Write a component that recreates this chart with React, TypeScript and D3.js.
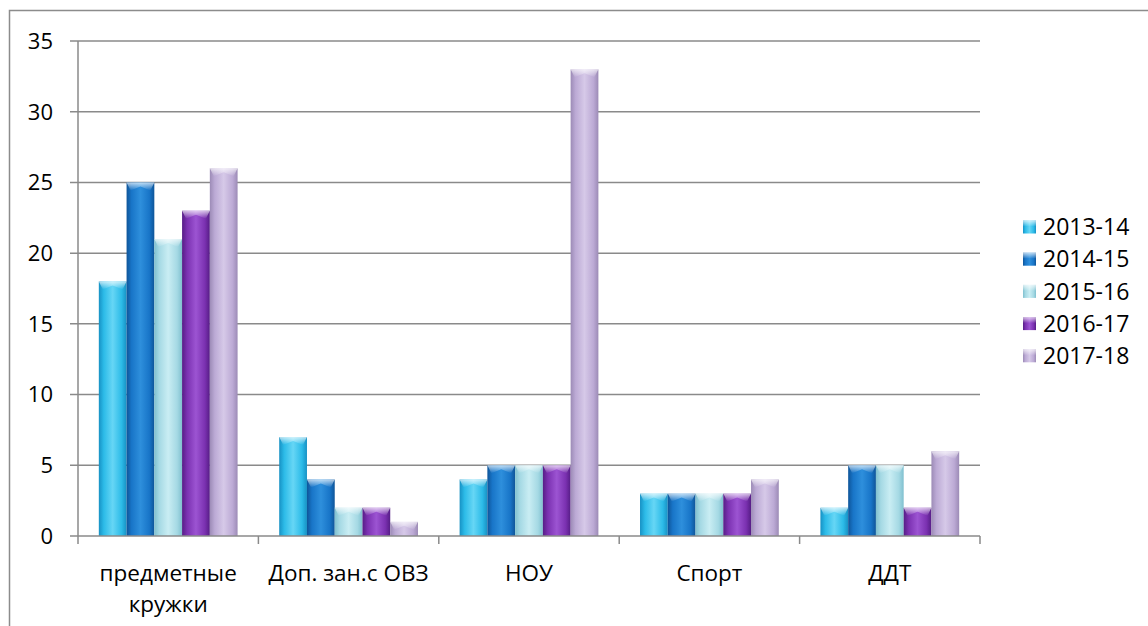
import * as d3 from "d3"

const categories = [["предметные", "кружки"], ["Доп. зан.с ОВЗ"], ["НОУ"], ["Спорт"], ["ДДТ"]]
const seriesNames = ["2013-14", "2014-15", "2015-16", "2016-17", "2017-18"]
// values per series, one per category
const values = [
  [18, 7, 4, 3, 2],
  [25, 4, 5, 3, 5],
  [21, 2, 5, 3, 5],
  [23, 2, 5, 3, 2],
  [26, 1, 33, 4, 6],
]
const yTicks = [0, 5, 10, 15, 20, 25, 30, 35]

// base / edge / highlight per series
const palette = [
  { base: "#2cbbe8", edge: "#1791c4", light: "#66d6f5" },
  { base: "#1875c8", edge: "#0f5599", light: "#2e8fdc" },
  { base: "#a5d9e4", edge: "#80c0cf", light: "#c9edf3" },
  { base: "#7b31b1", edge: "#561d86", light: "#9c54d2" },
  { base: "#bcaad5", edge: "#9c8bb6", light: "#d6c9e8" },
]

const FONT = "'Open Sans', 'DejaVu Sans', sans-serif"

export default function App() {
  const width = 1148
  const height = 626
  const plot = { left: 78, right: 980, top: 41, bottom: 536 }

  const x0 = d3
    .scaleBand<number>()
    .domain(d3.range(categories.length))
    .range([plot.left, plot.right])
    .paddingInner(0)
  // Excel gap width 150%: 5 bars + 1.5 gap
  const bw = x0.bandwidth() / (seriesNames.length + 1.5)
  const x1 = d3
    .scaleBand<number>()
    .domain(d3.range(seriesNames.length))
    .range([bw * 0.75, bw * 0.75 + bw * seriesNames.length])

  const y = d3.scaleLinear().domain([0, 35]).range([plot.bottom, plot.top])

  return (
    <svg
      width={width}
      height={height}
      style={{ position: "absolute", left: 0, top: 0, background: "#fff" }}
      fontFamily={FONT}
    >
      <defs>
        {palette.map((p, i) => (
          <linearGradient key={i} id={`g${i}`} x1="0" x2="1" y1="0" y2="0">
            <stop offset="0%" stopColor={p.edge} />
            <stop offset="18%" stopColor={p.base} />
            <stop offset="50%" stopColor={p.light} />
            <stop offset="82%" stopColor={p.base} />
            <stop offset="100%" stopColor={p.edge} />
          </linearGradient>
        ))}
        <linearGradient id="cap" x1="0" x2="0" y1="0" y2="1">
          <stop offset="0%" stopColor="#fff" stopOpacity={0.7} />
          <stop offset="100%" stopColor="#fff" stopOpacity={0} />
        </linearGradient>
      </defs>

      {/* outer frame */}
      <path d={`M9.5,${height} V10.5 H${width}`} fill="none" stroke="#8c8c8c" strokeWidth={1.5} />

      {/* gridlines */}
      {yTicks.map((t) => (
        <g key={t}>
          {t > 0 && (
            <line x1={plot.left - 8} x2={plot.right} y1={y(t)} y2={y(t)} stroke="#8a8a8a" strokeWidth={1.5} />
          )}
          <text x={53} y={y(t)} dy="0.36em" textAnchor="end" fontSize={22} fill="#000">
            {t}
          </text>
        </g>
      ))}

      {/* bars */}
      {categories.map((_, ci) => (
        <g key={ci} transform={`translate(${x0(ci)},0)`}>
          {seriesNames.map((_, si) => {
            const v = values[si][ci]
            const bx = x1(si)!
            const by = y(v)
            const bh = y(0) - by
            const w = x1.bandwidth()
            const capH = Math.min(8, bh)
            return (
              <g key={si}>
                <rect x={bx} y={by} width={w} height={bh} fill={`url(#g${si})`} />
                <path
                  d={`M${bx},${by} H${bx + w} L${bx + w - 4},${by + capH} L${bx + w / 2},${by + capH * 0.5} L${bx + 4},${by + capH} Z`}
                  fill="url(#cap)"
                />
              </g>
            )
          })}
        </g>
      ))}

      {/* axes */}
      <line x1={plot.left} x2={plot.left} y1={plot.top} y2={plot.bottom} stroke="#8a8a8a" strokeWidth={1.5} />
      <line x1={plot.left - 8} x2={plot.right} y1={plot.bottom} y2={plot.bottom} stroke="#8a8a8a" strokeWidth={1.5} />
      {d3.range(categories.length + 1).map((i) => {
        const tx = i < categories.length ? x0(i)! : plot.right
        return <line key={i} x1={tx} x2={tx} y1={plot.bottom} y2={plot.bottom + 8} stroke="#8a8a8a" strokeWidth={1.5} />
      })}

      {/* category labels */}
      {categories.map((lines, ci) => (
        <text key={ci} x={x0(ci)! + x0.bandwidth() / 2} y={573} textAnchor="middle" fontSize={22.5} fill="#000">
          {lines.map((l, li) => (
            <tspan key={li} x={x0(ci)! + x0.bandwidth() / 2} dy={li === 0 ? "0.36em" : 31}>
              {l}
            </tspan>
          ))}
        </text>
      ))}

      {/* legend */}
      {seriesNames.map((s, i) => {
        const ly = 227 + i * 32.2
        return (
          <g key={s}>
            <rect x={1023} y={ly - 6.5} width={13} height={13} fill={`url(#g${i})`} />
            <rect x={1023} y={ly - 6.5} width={13} height={6} fill="url(#cap)" />
            <text x={1043} y={ly} dy="0.36em" fontSize={23} fill="#000">
              {s}
            </text>
          </g>
        )
      })}
    </svg>
  )
}
